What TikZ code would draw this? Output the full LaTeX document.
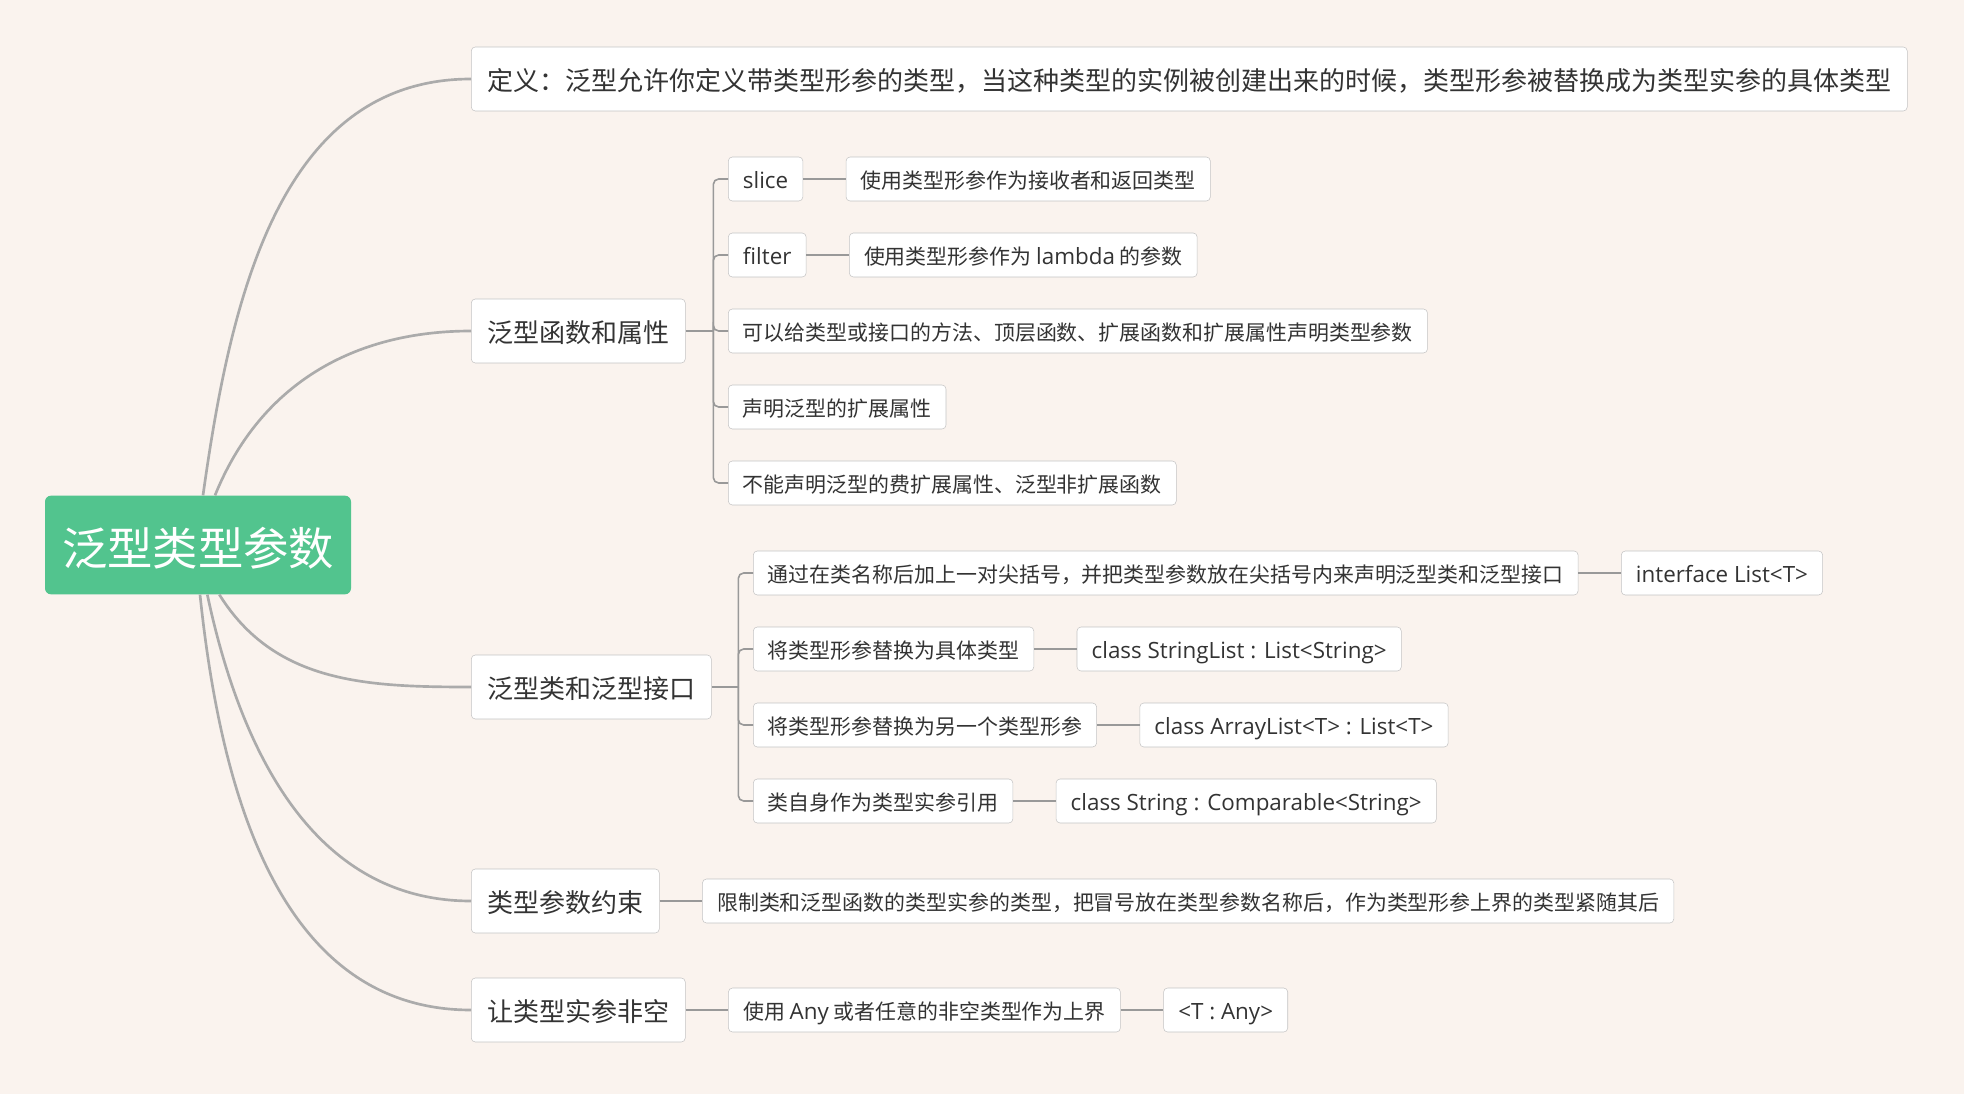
\documentclass[tikz,border=0pt]{standalone}
\usepackage{fontspec}
\setmainfont{Noto Sans CJK SC}
\newfontfamily\lat[Scale=1.07]{Open Sans}
\usepackage{xcolor}
\usepackage{tikz}
\usetikzlibrary{positioning}

\definecolor{paper}{HTML}{FAF3EE}
\definecolor{rootgreen}{HTML}{52C48E}
\definecolor{inkgray}{HTML}{333333}
\definecolor{boxline}{HTML}{C4C4C4}
\definecolor{trunkgray}{HTML}{ABABAB}
\definecolor{twiggray}{HTML}{999999}

\begin{document}
\begin{tikzpicture}[x=0.75pt, y=0.75pt, node distance=32pt,
    every node/.style={text=inkgray},
    root/.style={fill=rootgreen, text=white, rounded corners=4.5pt,
      minimum width=229.5pt, minimum height=74pt,
      text height=35pt, text depth=4pt,
      font=\fontsize{34}{40}\selectfont},
    topic/.style={draw=boxline, fill=white, rounded corners=3pt,
      minimum height=48pt, inner xsep=12pt,
      text height=20pt, text depth=2.4pt,
      font=\fontsize{19.5}{24}\selectfont},
    leaf/.style={draw=boxline, fill=white, rounded corners=3pt,
      minimum height=33pt, inner xsep=11pt,
      text height=16pt, text depth=2pt,
      font=\fontsize{15.7}{19}\selectfont},
    trunk/.style={draw=trunkgray, line width=2pt},
    twig/.style={draw=twiggray, line width=1.2pt}]
    \fill[paper] (0,0) rectangle (1964,-1094);

    % Root and topics
    \node[root] (root) at (198,-545) {泛型类型参数};
    \node[topic, anchor=west] (def)     at (471,-79)   {定义：泛型允许你定义带类型形参的类型，当这种类型的实例被创建出来的时候，类型形参被替换成为类型实参的具体类型};
    \node[topic, anchor=west] (fun)     at (471,-331)  {泛型函数和属性};
    \node[topic, anchor=west] (cls)     at (471,-687)  {泛型类和泛型接口};
    \node[topic, anchor=west] (bound)   at (471,-901)  {类型参数约束};
    \node[topic, anchor=west] (nonnull) at (471,-1010) {让类型实参非空};

    % Functions and properties
    \node[leaf, anchor=west] (slice)   at (728,-179) {\lat slice};
    \node[leaf, anchor=west] (filter)  at (728,-255) {\lat filter};
    \node[leaf, anchor=west] (decl)    at (728,-331) {可以给类型或接口的方法、顶层函数、扩展函数和扩展属性声明类型参数};
    \node[leaf, anchor=west] (extprop) at (728,-407) {声明泛型的扩展属性};
    \node[leaf, anchor=west] (nonext)  at (728,-483) {不能声明泛型的费扩展属性、泛型非扩展函数};
    \node[leaf, right=of slice]  (slicedesc)  {使用类型形参作为接收者和返回类型};
    \node[leaf, right=of filter] (filterdesc) {使用类型形参作为 {\lat lambda} 的参数};

    % Classes and interfaces
    \node[leaf, anchor=west] (angle)    at (753,-573) {通过在类名称后加上一对尖括号，并把类型参数放在尖括号内来声明泛型类和泛型接口};
    \node[leaf, anchor=west] (concrete) at (753,-649) {将类型形参替换为具体类型};
    \node[leaf, anchor=west] (another)  at (753,-725) {将类型形参替换为另一个类型形参};
    \node[leaf, anchor=west] (selfref)  at (753,-801) {类自身作为类型实参引用};
    \node[leaf, right=of angle]    (angleeg)    {\lat interface List<T>};
    \node[leaf, right=of concrete] (concreteeg) {\lat class StringList : List<String>};
    \node[leaf, right=of another]  (anothereg)  {\lat class ArrayList<T> : List<T>};
    \node[leaf, right=of selfref]  (selfrefeg)  {\lat class String : Comparable<String>};

    % Bounds and non-null
    \node[leaf, right=of bound]   (bounddesc) {限制类和泛型函数的类型实参的类型，把冒号放在类型参数名称后，作为类型形参上界的类型紧随其后};
    \node[leaf, right=of nonnull] (anyup)     {使用 {\lat Any} 或者任意的非空类型作为上界};
    \node[leaf, right=of anyup]   (anyeg)     {\lat <T : Any>};

    % Curves from the root
    \draw[trunk] ([xshift=3.75pt]root.north) to[out=82, in=180] (def.west);
    \draw[trunk] ([xshift=12.75pt]root.north) to[out=68, in=180] (fun.west);
    \draw[trunk] ([xshift=16pt]root.south) to[out=-58, in=180] (cls.west);
    \draw[trunk] ([xshift=7pt]root.south) to[out=-78, in=180] (bound.west);
    \draw[trunk] ([xshift=1.5pt]root.south) to[out=-84, in=180] (nonnull.west);

    % Brackets
    \coordinate (funbar) at ([xshift=-11pt]slice.west);
    \coordinate (clsbar) at ([xshift=-11pt]angle.west);
    \draw[twig] (fun.east) -- (funbar |- fun.east);
    \draw[twig] (cls.east) -- (clsbar |- cls.east);
    \foreach \n in {slice, filter, decl, extprop, nonext}
      \draw[twig, rounded corners=4pt] (funbar |- fun.east) -- (funbar |- \n.west) -- (\n.west);
    \foreach \n in {angle, concrete, another, selfref}
      \draw[twig, rounded corners=4pt] (clsbar |- cls.east) -- (clsbar |- \n.west) -- (\n.west);

    % Links
    \draw[twig]
      (slice)    edge (slicedesc)
      (filter)   edge (filterdesc)
      (angle)    edge (angleeg)
      (concrete) edge (concreteeg)
      (another)  edge (anothereg)
      (selfref)  edge (selfrefeg)
      (bound)    edge (bounddesc)
      (nonnull)  edge (anyup)
      (anyup)    edge (anyeg);
\end{tikzpicture}
\end{document}
